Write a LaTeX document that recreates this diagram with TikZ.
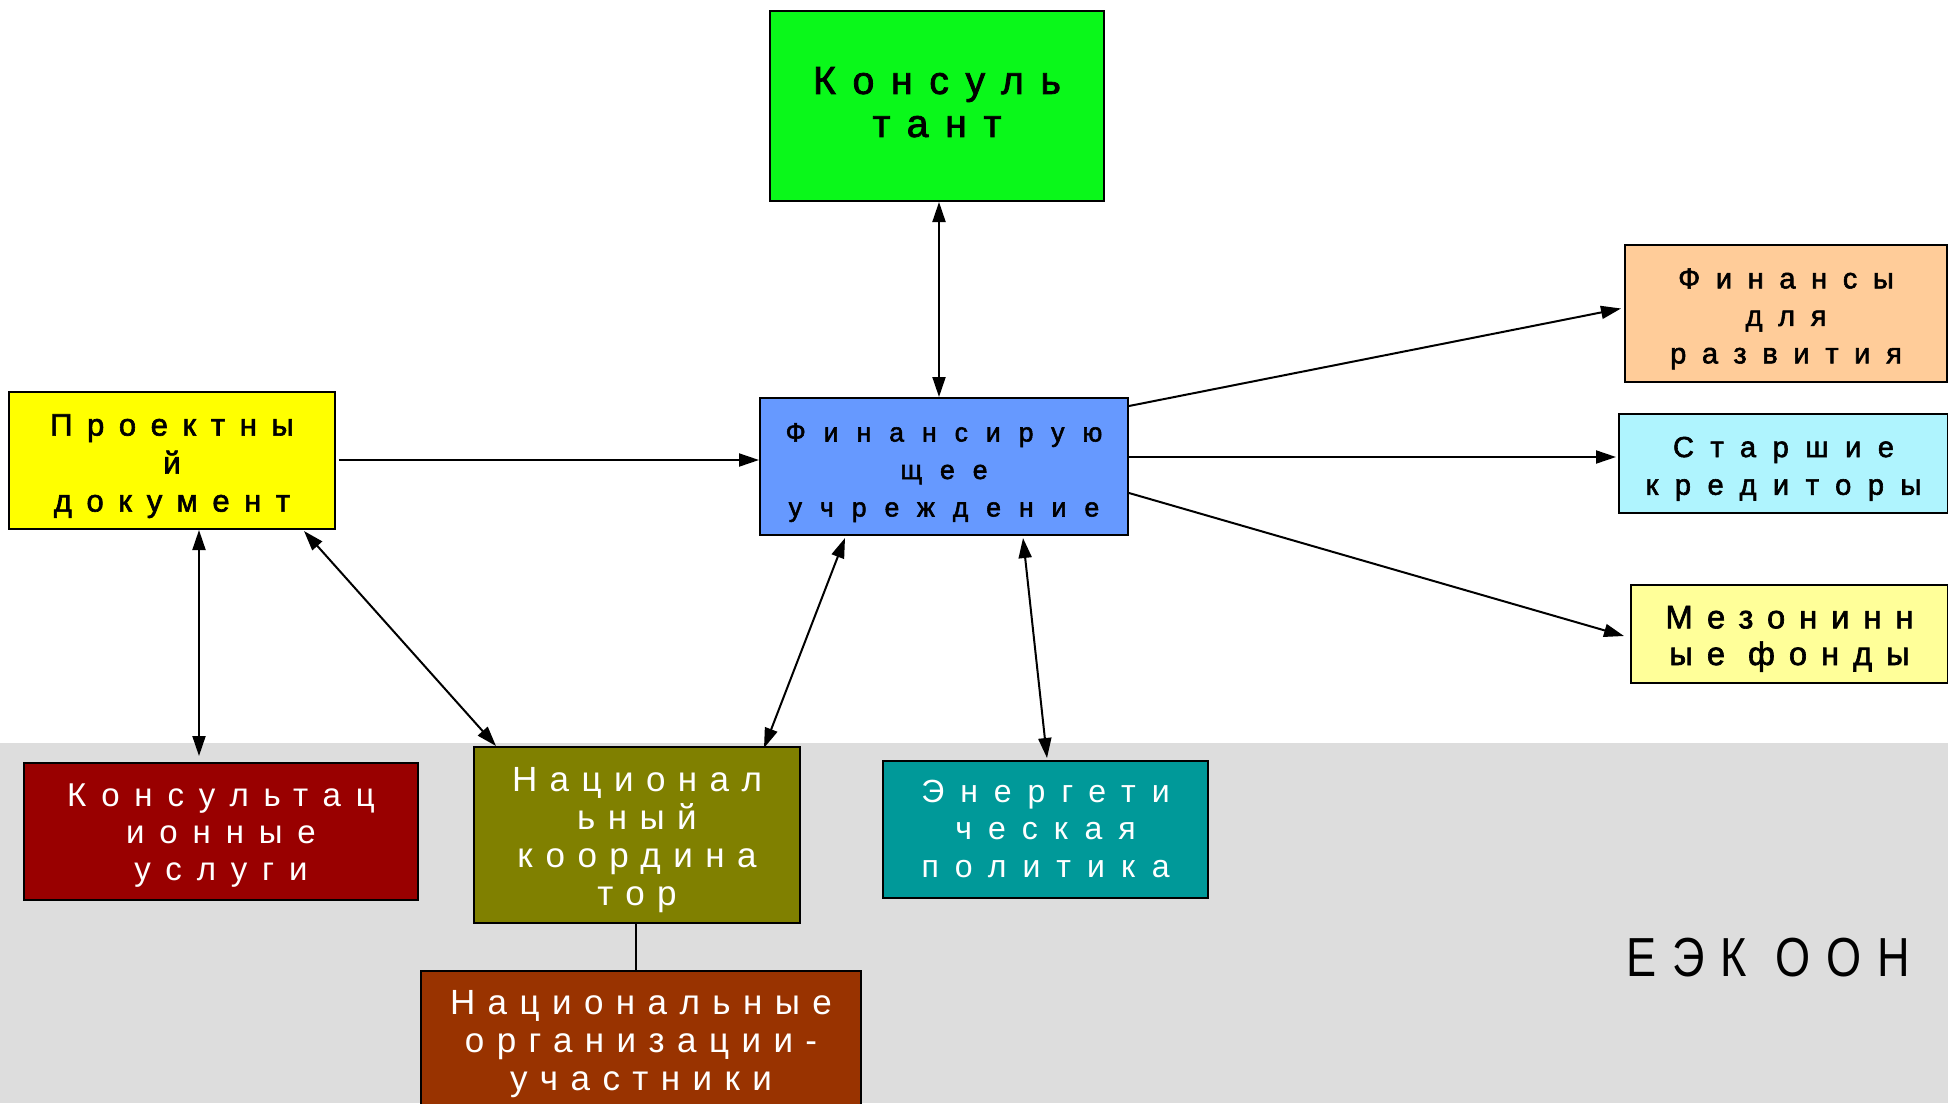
\documentclass[tikz,border=0pt]{standalone}
\usepackage{fontspec}
\setmainfont{Liberation Sans}
\usetikzlibrary{arrows.meta,calc}
\definecolor{cgreen}{RGB}{10,248,26}
\definecolor{cblue}{RGB}{102,153,255}
\definecolor{cyel}{RGB}{255,255,0}
\definecolor{corange}{RGB}{255,204,153}
\definecolor{ccyan}{RGB}{175,244,254}
\definecolor{cpale}{RGB}{255,255,153}
\definecolor{cred}{RGB}{153,0,0}
\definecolor{colive}{RGB}{128,128,0}
\definecolor{cteal}{RGB}{0,153,153}
\definecolor{cbrown}{RGB}{153,51,0}
\definecolor{cgray}{RGB}{221,221,221}
% size, baselineskip, letter spacing (percent of size)
\newcommand\lsfont[3]{\fontsize{#1}{#2}\selectfont\addfontfeature{LetterSpace=#3}}
\newcommand\lsdark[3]{\fontsize{#1}{#2}\selectfont\addfontfeature{LetterSpace=#3,FakeBold=2}}
\tikzset{
  box/.style={draw=black, line width=2pt, inner sep=0pt, align=center, text depth=0pt},
  conn/.style={line width=2pt, draw=black},
  tipA/.tip={Triangle[length=20pt,width=13pt]},
  dbl/.style={conn, tipA-tipA},
  one/.style={conn, -tipA},
}
\begin{document}
\begin{tikzpicture}[x=1pt,y=-1pt]
\useasboundingbox (0,0) rectangle (1948,1103);
\fill[white] (0,0) rectangle (1948,1103);
\fill[cgray] (0,743) rectangle (1948,1103);

\node[box, fill=cgreen, minimum width=334pt, minimum height=190pt, text height=61.9pt, font=\lsdark{39}{43}{43}] (cons) at (937,106) {Консуль\\тант};
\node[box, fill=cblue, minimum width=368pt, minimum height=137pt, text height=100pt, font=\lsdark{26.5}{37.5}{68}] (fin) at (944,466.5) {Финансирую\\щее\\учреждение};
\node[box, fill=cyel, minimum width=326pt, minimum height=137pt, text height=102.2pt, font=\lsdark{31}{38}{47}] (proj) at (172,460.5) {Проектны\\й\\документ};
\node[box, fill=corange, minimum width=322pt, minimum height=137pt, text height=99.8pt, font=\lsdark{29}{37.5}{54}] (dev) at (1786,313.5) {Финансы\\для\\развития};
\node[box, fill=ccyan, minimum width=329pt, minimum height=99pt, text height=62.5pt, font=\lsdark{29}{37.7}{57}] (senior) at (1783.5,463.5) {Старшие\\кредиторы};
\node[box, fill=cpale, minimum width=317pt, minimum height=98pt, text height=62pt, font=\lsdark{32.6}{36.7}{43}] (mezz) at (1789.5,634) {Мезонинн\\ые фонды};
\node[box, fill=cred, text=white, minimum width=394pt, minimum height=137pt, text height=97pt, font=\lsfont{33}{36.7}{45}] (consserv) at (221,831.5) {Консультац\\ионные\\услуги};
\node[box, fill=colive, text=white, minimum width=326pt, minimum height=176pt, text height=140.4pt, font=\lsfont{35}{37.8}{35.5}] (coord) at (637,835) {Национал\\ьный\\координа\\тор};
\node[box, fill=cteal, text=white, minimum width=325pt, minimum height=137pt, text height=95.9pt, font=\lsfont{32}{37.5}{50}] (energy) at (1045.5,829.5) {Энергети\\ческая\\политика};
\node[box, fill=cbrown, text=white, anchor=north, minimum width=440pt, minimum height=138pt, text height=101.6pt, font=\lsfont{35}{38.3}{35.5}] (orgs) at (641,970) {Национальные\\организации-\\участники};
\node[inner sep=0pt, font=\fontsize{55}{60}\selectfont\addfontfeature{FakeStretch=0.82,LetterSpace=29}] (unece) at (1768,957.5) {ЕЭК ООН};

\draw[dbl] ($(cons.south)+(2,0)$) -- ($(cons.south |- fin.north)+(2,0)$);
\draw[one] ($(proj.east)+(3,-0.5)$) -- ($(fin.west)+(0,-6.5)$);
\draw[one] ($(fin.east)+(0,-60.5)$) -- ($(dev.west)+(-3,-5)$);
\draw[one] ($(fin.east)+(0,-9.5)$) -- ($(senior.west)+(-2,-6.5)$);
\draw[one] ($(fin.east)+(0,26.5)$) -- ($(mezz.west)+(-6,2)$);
\draw[dbl] ($(proj.south)+(27,0)$) -- ($(consserv.north)+(-22,-6)$);
\draw[dbl] ($(proj.south east)+(-32,1)$) -- ($(coord.north west)+(23,0)$);
\draw[dbl] ($(fin.south west)+(86,2)$) -- ($(coord.north east)+(-37,2)$);
\draw[dbl] ($(fin.south west)+(264,2)$) -- ($(energy.north)+(1.5,-2)$);
\draw[conn] ($(coord.south)+(-1,0)$) -- ($(orgs.north)+(-5,0)$);
\end{tikzpicture}
\end{document}
